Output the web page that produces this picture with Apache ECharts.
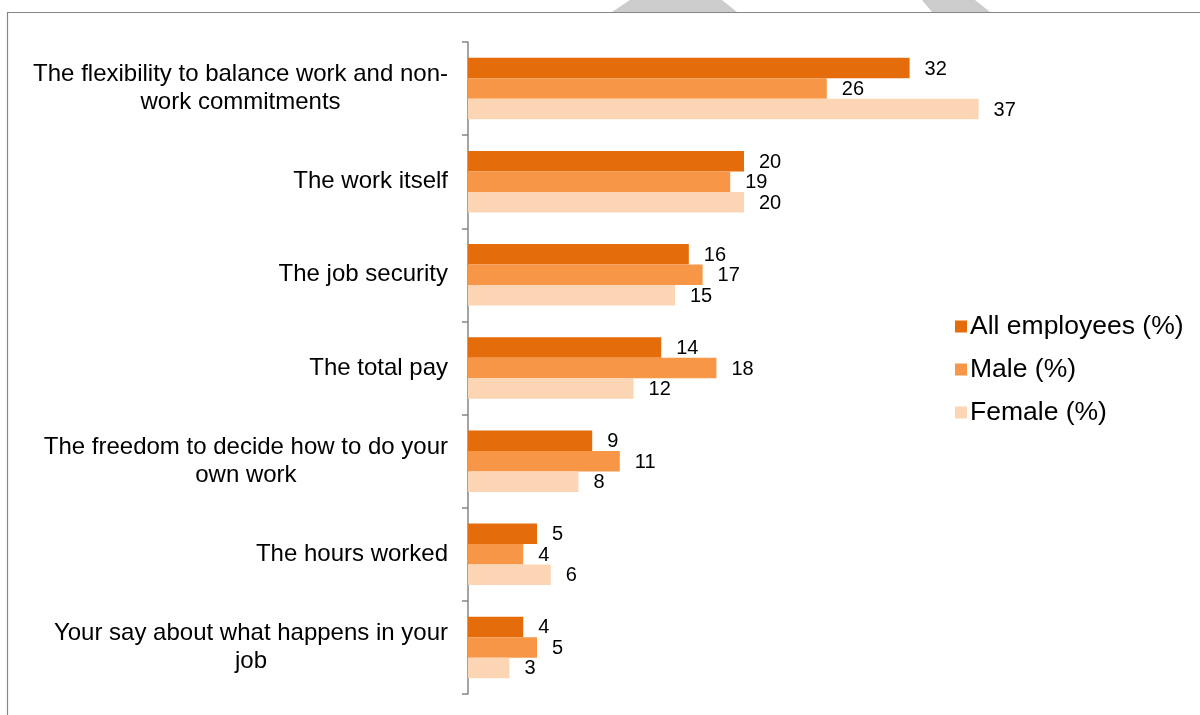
<!DOCTYPE html>
<html>
<head>
<meta charset="utf-8">
<style>
  html, body { margin: 0; padding: 0; background: #ffffff; }
  #chart { width: 1200px; height: 715px; }
</style>
<script src="https://cdn.jsdelivr.net/npm/echarts@6/dist/echarts.min.js"></script>
</head>
<body>
<div id="chart"></div>
<script>
// Aspects of the job valued most, by sex (%)
const categories = [
  'The flexibility to balance work and non-\nwork commitments',
  'The work itself',
  'The job security',
  'The total pay',
  'The freedom to decide how to do your\nown work',
  'The hours worked',
  'Your say about what happens in your\njob'
];
const allEmployees = [32, 20, 16, 14, 9, 5, 4];
const male = [26, 19, 17, 18, 11, 4, 5];
const female = [37, 20, 15, 12, 8, 6, 3];
const seriesNames = ['All employees (%)', 'Male (%)', 'Female (%)'];
const seriesColors = ['#E46C0A', '#F79646', '#FCD5B5'];

const FONT = '"Liberation Sans", Arial, sans-serif';

const chart = echarts.init(document.getElementById('chart'), null, { renderer: 'canvas' });

function barSeries(name, data, color) {
  return {
    name: name,
    type: 'bar',
    data: data,
    barGap: '0%',
    barCategoryGap: '34%',
    itemStyle: { color: color },
    label: {
      show: true,
      position: 'right',
      distance: 15,
      color: '#000000',
      fontFamily: FONT,
      fontSize: 20,
      offset: [0, 1]
    },
    emphasis: { disabled: true },
    animation: false
  };
}

const option = {
  backgroundColor: '#ffffff',
  animation: false,
  textStyle: { fontFamily: FONT },
  graphic: [
    // faint shapes peeking above the frame
    { type: 'polygon', z: 0, shape: { points: [[630, 0], [722, 0], [737, 12], [612, 12]] }, style: { fill: '#cccccc' } },
    { type: 'polygon', z: 0, shape: { points: [[922, 0], [975, 0], [990, 12], [932, 12]] }, style: { fill: '#cccccc' } },
    // chart frame
    { type: 'rect', z: 1, shape: { x: 7.5, y: 12.5, width: 1220, height: 720 }, style: { fill: 'none', stroke: '#868686', lineWidth: 1.2 } }
  ],
  legend: {
    orient: 'vertical',
    left: 950,
    top: 306,
    icon: 'rect',
    itemWidth: 12,
    itemHeight: 12,
    itemGap: 12,
    textStyle: { fontFamily: FONT, fontSize: 26.5, color: '#000000', lineHeight: 31, padding: [0, 0, 0, -2] },
    data: seriesNames
  },
  grid: { left: 468, top: 42, width: 552, height: 652, containLabel: false },
  xAxis: {
    type: 'value',
    min: 0,
    max: 40,
    show: false
  },
  yAxis: {
    type: 'category',
    inverse: true,
    data: categories,
    axisLine: { show: true, lineStyle: { color: '#868686', width: 1.5 } },
    axisTick: { show: true, length: 6, inside: false, lineStyle: { color: '#868686', width: 1.5 } },
    axisLabel: {
      margin: 20,
      align: 'right',
      color: '#000000',
      fontFamily: FONT,
      fontSize: 24,
      lineHeight: 28,
      formatter: function (v) {
        return v.split('\n').map(function (s) { return '{c|' + s + '}'; }).join('\n');
      },
      rich: { c: { align: 'center', fontSize: 24, lineHeight: 28, fontFamily: FONT, color: '#000000' } }
    },
    splitLine: { show: false }
  },
  series: [
    barSeries(seriesNames[0], allEmployees, seriesColors[0]),
    barSeries(seriesNames[1], male, seriesColors[1]),
    barSeries(seriesNames[2], female, seriesColors[2])
  ]
};

chart.setOption(option);
</script>
</body>
</html>
